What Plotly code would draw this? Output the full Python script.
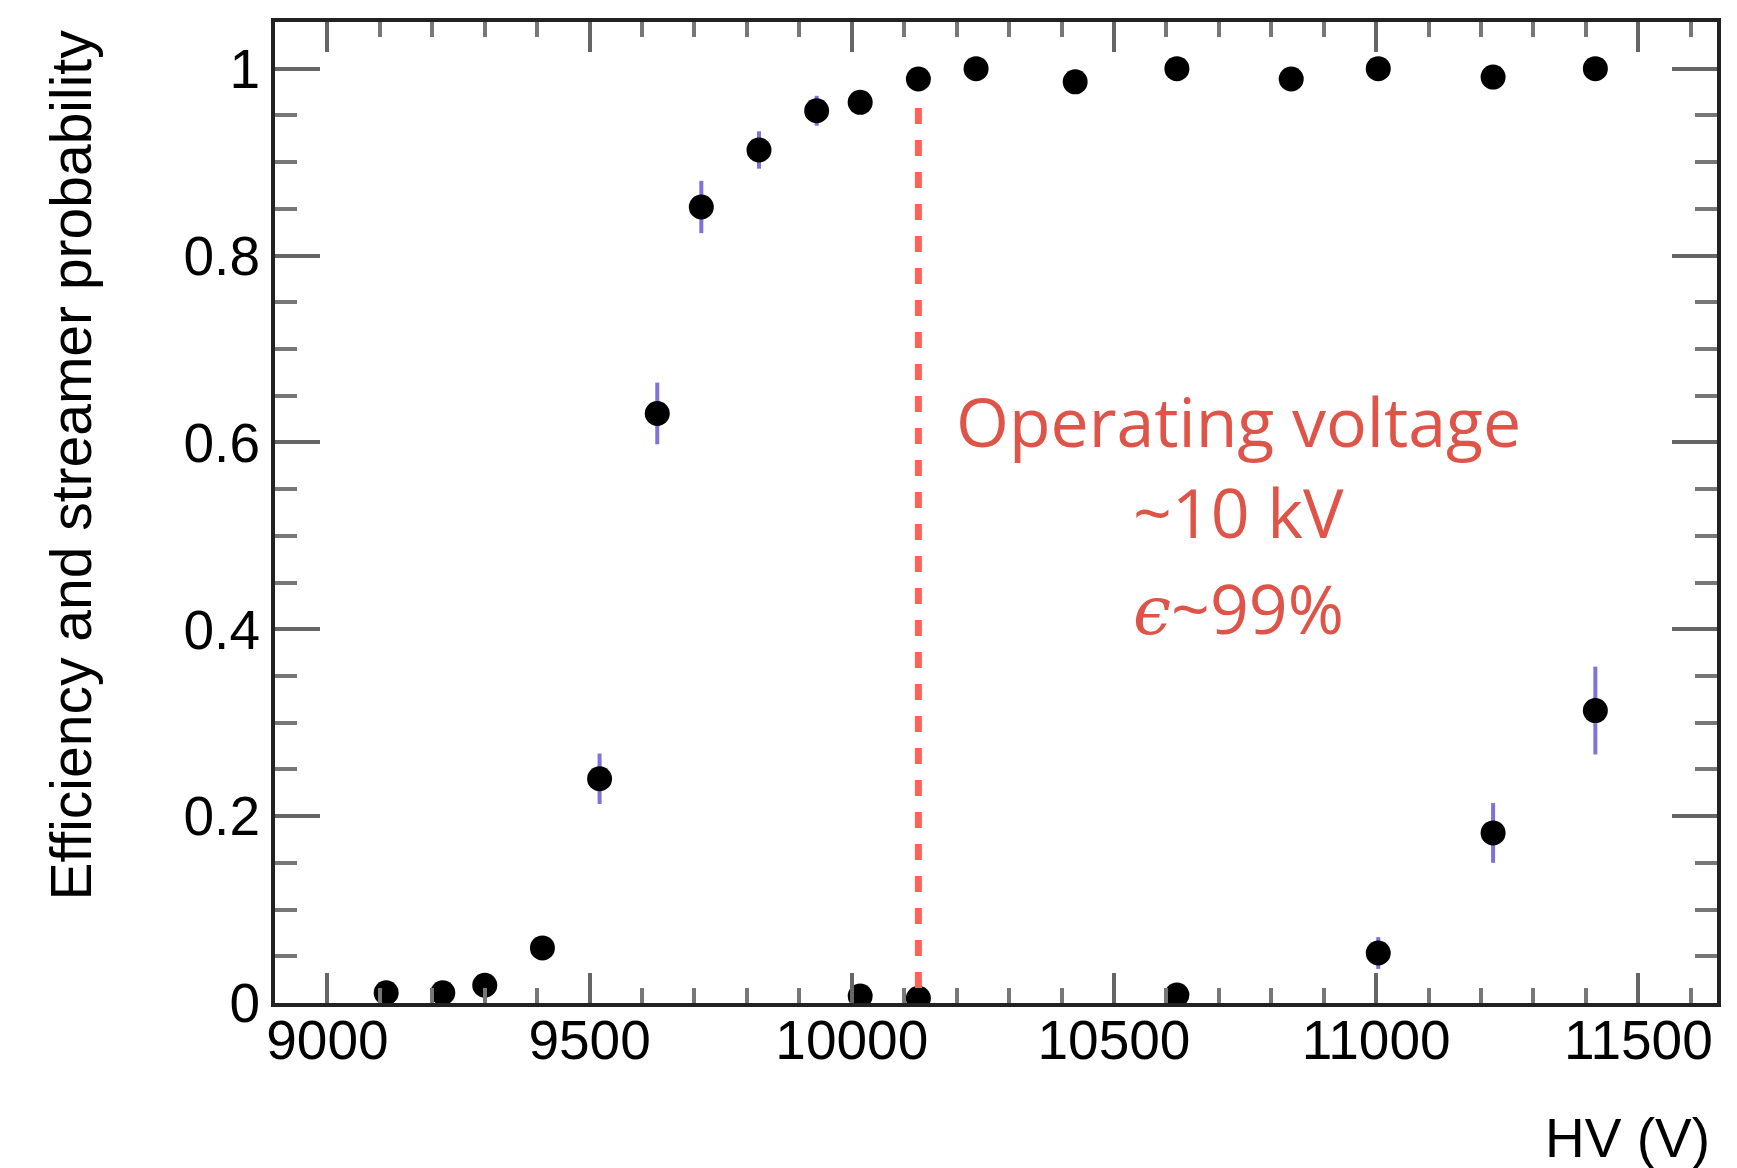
import plotly.graph_objects as go

# ---- data ----
eff_hv = [9112, 9220, 9300, 9410, 9519, 9629, 9713, 9823, 9933, 10016,
          10127, 10237, 10426, 10620, 10838, 11004, 11223, 11418]
eff_val = [0.011, 0.011, 0.019, 0.059, 0.240, 0.631, 0.852, 0.913, 0.955, 0.964,
           0.989, 1.000, 0.986, 1.000, 0.989, 1.000, 0.991, 1.000]
eff_err = [0.004, 0.004, 0.005, 0.010, 0.027, 0.033, 0.028, 0.020, 0.016, 0.010,
           0.005, 0.002, 0.005, 0.002, 0.005, 0.002, 0.005, 0.002]

str_hv = [10016, 10127, 10620, 11004, 11223, 11418]
str_val = [0.0075, 0.005, 0.0086, 0.0535, 0.182, 0.313]
str_err = [0.004, 0.003, 0.004, 0.017, 0.032, 0.047]

x_ticks = [9000, 9500, 10000, 10500, 11000, 11500]
x_ticktext = ["9000", "9500", "10000", "10500", "11000", "11500"]
y_ticks = [0, 0.2, 0.4, 0.6, 0.8, 1.0]
y_ticktext = ["0", "0.2", "0.4", "0.6", "0.8", "1"]

operating_hv = 10127
operating_top = 0.958
annotation_lines = ["Operating voltage", "~10 kV",
                    "<span style='font-family:DejaVu Serif'><i>ϵ</i></span>~99%"]
annotation_y = [0.623, 0.526, 0.423]

# ---- figure ----
W, H = 1737, 1168
L, R, T, B = 275, 20, 22, 165
AX_FONT = dict(family="Liberation Sans, Arial, sans-serif", size=55, color="black")
TITLE_FONT = dict(family="Liberation Sans, Arial, sans-serif", size=57, color="black")
ERR_COLOR = "#7E72DC"

fig = go.Figure()
for xs, ys, es in [(eff_hv, eff_val, eff_err), (str_hv, str_val, str_err)]:
    fig.add_trace(go.Scatter(
        x=xs, y=ys, mode="markers",
        marker=dict(color="black", size=25, line=dict(width=0)),
        error_y=dict(type="data", array=es, color=ERR_COLOR, thickness=4, width=0),
        showlegend=False,
    ))

fig.add_shape(type="line", xref="x", yref="y",
              x0=operating_hv, x1=operating_hv, y0=operating_top, y1=0,
              line=dict(color="#FF6358", width=7, dash="16px,16px"))

ann_font = dict(family="Open Sans, sans-serif", size=68, color="#DE5448")
for txt, yy in zip(annotation_lines, annotation_y):
    fig.add_annotation(x=10737, y=yy, xref="x", yref="y", text=txt,
                       showarrow=False, xanchor="center", yanchor="middle",
                       font=ann_font)

# axis titles (ROOT style: right / top aligned)
fig.add_annotation(xref="paper", yref="paper", x=(1712 - L) / (W - L - R),
                   y=(H - B - 1138) / (H - T - B), text="HV (V)", showarrow=False,
                   xanchor="right", yanchor="middle", font=AX_FONT)
fig.add_annotation(xref="paper", yref="paper", x=(70 - L) / (W - L - R),
                   y=(H - B - 28) / (H - T - B), text="Efficiency and streamer probability",
                   showarrow=False, textangle=-90, xanchor="center", yanchor="top",
                   font=TITLE_FONT)

fig.update_xaxes(range=[8900, 11650], tickvals=x_ticks, ticktext=x_ticktext,
                 ticks="inside", ticklen=30, tickwidth=4, tickcolor="#666",
                 minor=dict(ticks="inside", ticklen=15, tickwidth=4, tickcolor="#777", dtick=100,
                            tick0=9000, showgrid=False),
                 showline=True, linecolor="#222", linewidth=4, mirror="ticks",
                 showgrid=False, zeroline=False, tickfont=AX_FONT, ticklabelstandoff=-14)
fig.update_yaxes(range=[0, 1.05], tickvals=y_ticks, ticktext=y_ticktext,
                 ticks="inside", ticklen=45, tickwidth=4, tickcolor="#666",
                 minor=dict(ticks="inside", ticklen=22, tickwidth=4, tickcolor="#777", dtick=0.05,
                            tick0=0, showgrid=False),
                 showline=True, linecolor="#222", linewidth=4, mirror="ticks",
                 showgrid=False, zeroline=False, tickfont=AX_FONT)

fig.update_layout(width=W, height=H, margin=dict(l=L, r=R, t=T, b=B),
                  paper_bgcolor="white", plot_bgcolor="white")

fig.write_html("out.html")
